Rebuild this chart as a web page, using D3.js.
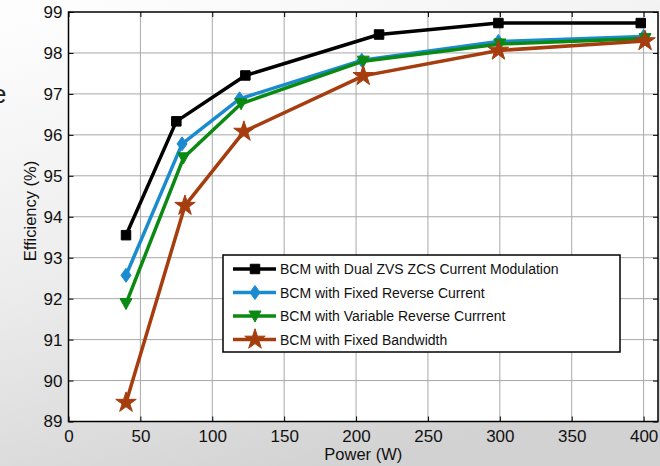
<!DOCTYPE html>
<html>
<head>
<meta charset="utf-8">
<script src="https://cdnjs.cloudflare.com/ajax/libs/d3/7.8.5/d3.min.js"></script>
<style>
  html, body { margin: 0; padding: 0; }
  body { width: 660px; height: 466px; overflow: hidden; font-family: "Liberation Sans", Arial, sans-serif; }
  .grid line { stroke: #a8a8a8; stroke-width: 1px; }
</style>
</head>
<body>
<div id="chart"></div>
<script>
// chart values
var seriesNames = [
    'BCM with Dual ZVS ZCS Current Modulation',
    'BCM with Fixed Reverse Current',
    'BCM with Variable Reverse Currrent',
    'BCM with Fixed Bandwidth'
];
var dualPower = [40, 75, 123, 216, 299, 398];
var dualEff   = [93.55, 96.33, 97.45, 98.45, 98.73, 98.73];
var fixedRevPower = [40, 79, 119, 204, 299, 400];
var fixedRevEff   = [92.57, 95.78, 96.88, 97.82, 98.28, 98.4];
var varRevPower = [40, 80, 120, 205, 300, 401];
var varRevEff   = [91.88, 95.44, 96.76, 97.8, 98.22, 98.35];
var bandPower = [40, 81, 122, 205, 299, 401];
var bandEff   = [89.46, 94.27, 96.08, 97.44, 98.06, 98.29];
var xTicks = [0, 50, 100, 150, 200, 250, 300, 350, 400];
var yTicks = [89, 90, 91, 92, 93, 94, 95, 96, 97, 98, 99];

var colors = ['#000000', '#1b8bd0', '#0a8a12', '#a63d0e'];
var markers = ['square', 'diamond', 'triangle', 'star'];

var width = 660, height = 466;
var margin = {t:12, r:2, b:44.5, l:68.5};
var plotWidth = width - margin.l - margin.r,
    plotHeight = height - margin.t - margin.b;

var svg = d3.select('#chart')
    .append('svg')
    .attr('width', width)
    .attr('height', height);

// slide-like background
var grad = svg.append('defs').append('linearGradient')
    .attr('id', 'bg')
    .attr('x1', '0.15').attr('y1', '0')
    .attr('x2', '0.55').attr('y2', '1');
grad.append('stop').attr('offset', '0').attr('stop-color', '#fdfdfd');
grad.append('stop').attr('offset', '0.5').attr('stop-color', '#ececec');
grad.append('stop').attr('offset', '1').attr('stop-color', '#d2d2d2');
svg.append('rect').attr('width', width).attr('height', height).style('fill', 'url(#bg)');

// cut-off slide text at the left edge
svg.append('text').attr('x', -8).attr('y', 103).style('font-size', '26px').style('fill', '#222').text('e');
svg.append('text').attr('x', -5).attr('y', 272).style('font-size', '22px').style('fill', '#333').text(':');
svg.append('text').attr('x', -4).attr('y', 428).style('font-size', '20px').style('fill', '#666').text('\'');

var x = d3.scaleLinear().domain([0, 410]).range([0, plotWidth]);
var y = d3.scaleLinear().domain([89, 99]).range([plotHeight, 0]);

var plot = svg.append('g')
    .attr('transform', 'translate(' + margin.l + ',' + margin.t + ')');

plot.append('rect')
    .attr('width', plotWidth)
    .attr('height', plotHeight)
    .style('fill', '#fff');

var grid = plot.append('g').attr('class', 'grid');
grid.selectAll('.gx').data(xTicks.slice(1)).enter().append('line')
    .attr('x1', function(d){ return x(d); }).attr('x2', function(d){ return x(d); })
    .attr('y1', 0).attr('y2', plotHeight);
grid.selectAll('.gy').data(yTicks.slice(1, -1)).enter().append('line')
    .attr('x1', 0).attr('x2', plotWidth)
    .attr('y1', function(d){ return y(d); }).attr('y2', function(d){ return y(d); });

// axes with inward ticks, on all four sides
var axisStyle = function(g){
    g.select('.domain').remove();
    g.selectAll('line').style('stroke', '#000');
    g.selectAll('text').style('font-size', '17px').style('font-family', '"Liberation Sans", Arial, sans-serif').style('fill', '#111');
};
plot.append('g')
    .attr('transform', 'translate(0,' + plotHeight + ')')
    .call(d3.axisBottom(x).tickValues(xTicks).tickSize(-5).tickPadding(8).tickFormat(d3.format('d')))
    .call(axisStyle);
plot.append('g')
    .call(d3.axisLeft(y).tickValues(yTicks).tickSize(-5).tickPadding(6).tickFormat(d3.format('d')))
    .call(axisStyle);
plot.append('g')
    .call(d3.axisTop(x).tickValues(xTicks).tickSize(-5).tickFormat(''))
    .call(axisStyle);
plot.append('g')
    .attr('transform', 'translate(' + plotWidth + ',0)')
    .call(d3.axisRight(y).tickValues(yTicks).tickSize(-5).tickFormat(''))
    .call(axisStyle);

plot.append('rect')
    .attr('width', plotWidth)
    .attr('height', plotHeight)
    .style('fill', 'none')
    .style('stroke', '#000')
    .style('stroke-width', '1.5px');

// series
var series = [
    {name: seriesNames[0], power: dualPower, eff: dualEff},
    {name: seriesNames[1], power: fixedRevPower, eff: fixedRevEff},
    {name: seriesNames[2], power: varRevPower, eff: varRevEff},
    {name: seriesNames[3], power: bandPower, eff: bandEff}
];

function symbolPath(kind){
    if(kind == 'square') return d3.symbol().type(d3.symbolSquare).size(90)();
    if(kind == 'diamond') return 'M0,-7L5,0L0,7L-5,0Z';
    if(kind == 'triangle') return 'M-6,-5L6,-5L0,6Z';
    return d3.symbol().type(d3.symbolStar).size(130)();
}

var line = d3.line()
    .x(function(d){ return x(d[0]); })
    .y(function(d){ return y(d[1]); });

series.forEach(function(s, i){
    var pts = s.power.map(function(p, j){ return [p, s.eff[j]]; });
    var g = plot.append('g').attr('class', 'series-' + i);
    g.append('path')
        .attr('d', line(pts))
        .style('fill', 'none')
        .style('stroke', colors[i])
        .style('stroke-width', '3.5px')
        .style('stroke-linejoin', 'round');
    g.selectAll('path.mark').data(pts).enter().append('path')
        .attr('class', 'mark')
        .attr('transform', function(d){ return 'translate(' + x(d[0]) + ',' + y(d[1]) + ')'; })
        .attr('d', symbolPath(markers[i]))
        .style('fill', colors[i])
        .style('stroke', colors[i])
        .style('stroke-width', '1px');
});

// legend
var legend = plot.append('g')
    .attr('transform', 'translate(' + (223 - margin.l) + ',' + (255 - margin.t) + ')');
legend.append('rect')
    .attr('width', 397)
    .attr('height', 97)
    .style('fill', '#fff')
    .style('stroke', '#000')
    .style('stroke-width', '1.5px');
var item = legend.selectAll('.item').data(series).enter().append('g')
    .attr('transform', function(d, i){ return 'translate(0,' + (14 + i * 23.5) + ')'; });
item.append('line')
    .attr('x1', 10).attr('x2', 53)
    .style('stroke', function(d, i){ return colors[i]; })
    .style('stroke-width', '3.5px');
item.append('path')
    .attr('transform', 'translate(32,0)')
    .attr('d', function(d, i){ return symbolPath(markers[i]); })
    .style('fill', function(d, i){ return colors[i]; })
    .style('stroke', function(d, i){ return colors[i]; });
item.append('text')
    .attr('x', 57).attr('y', 5)
    .style('font-size', '14px')
    .style('fill', '#111')
    .text(function(d){ return d.name; });

// axis titles
svg.append('text')
    .attr('x', margin.l + plotWidth / 2)
    .attr('y', 460)
    .attr('text-anchor', 'middle')
    .style('font-size', '16.5px')
    .style('fill', '#111')
    .text('Power (W)');
svg.append('text')
    .attr('transform', 'translate(36,211) rotate(-90)')
    .attr('text-anchor', 'middle')
    .style('font-size', '16.5px')
    .style('fill', '#111')
    .text('Efficiency (%)');
</script>
</body>
</html>
